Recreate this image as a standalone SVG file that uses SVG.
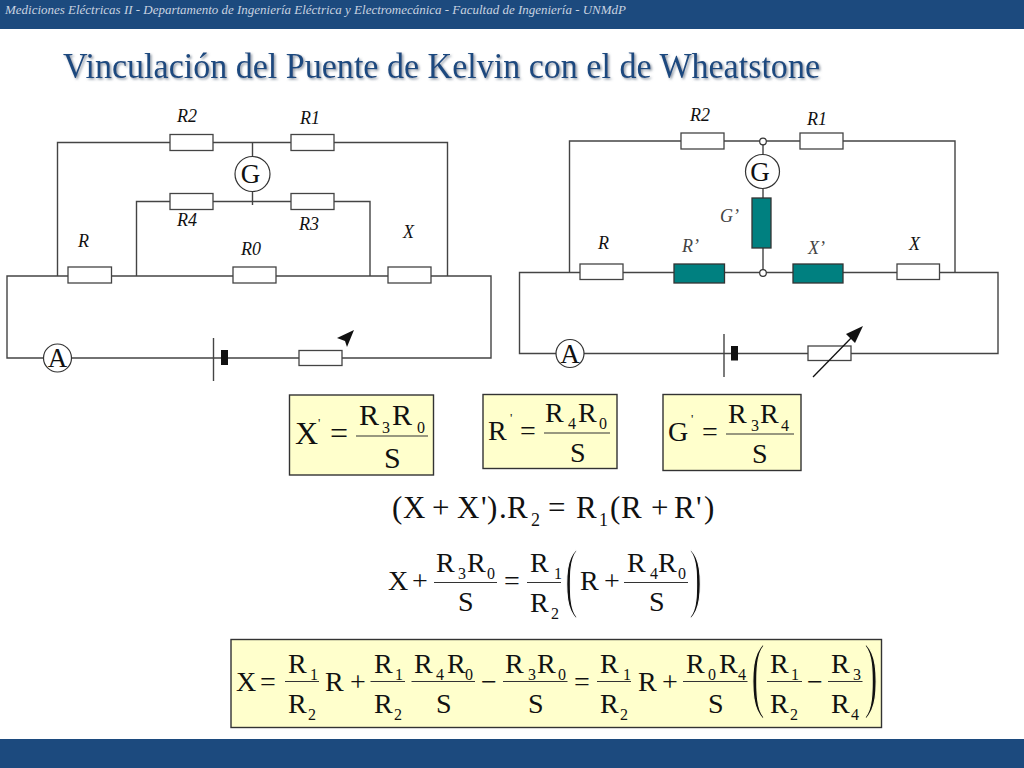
<svg xmlns="http://www.w3.org/2000/svg" width="1024" height="768" viewBox="0 0 1024 768">
<defs>
<filter id="sh" x="-5%" y="-20%" width="110%" height="150%"><feDropShadow dx="1.5" dy="1.5" stdDeviation="1" flood-color="#6f7d8e" flood-opacity="0.8"/></filter>
</defs>
<style>
text{font-family:"Liberation Serif","Times New Roman",serif;fill:#111}
.w{fill:none;stroke:#444;stroke-width:1.4}
.r{fill:#fff;stroke:#444;stroke-width:1.3}
.t{fill:#008080;stroke:#333;stroke-width:1.3}
.c{fill:#fff;stroke:#333;stroke-width:1.2}
.l{font-style:italic;font-size:18px}
.lg{font-style:italic;font-size:18px;fill:#444}
.n{font-size:27px;text-anchor:middle}
.box{fill:#ffffcc;stroke:#333;stroke-width:1.4}
.m{font-size:28px}
.a{font-size:30px}
.d{font-size:31px}
.s{font-size:16px}
.p{font-size:13px}
.f{stroke:#333;stroke-width:1.2;fill:none}
.b{font-size:78px;stroke:#fff;stroke-width:2}
.by{font-size:84px;stroke:#ffffcc;stroke-width:2}
</style>
<rect x="0" y="0" width="1024" height="29" fill="#1c4a7e"/>
<rect x="0" y="739" width="1024" height="29" fill="#1c4a7e"/>
<text x="5" y="14" font-size="13.5" font-style="italic" style="fill:#c9d3e0" textLength="621" lengthAdjust="spacingAndGlyphs">Mediciones Eléctricas II - Departamento de Ingeniería Eléctrica y Electromecánica  - Facultad de Ingeniería  - UNMdP</text>
<text x="63" y="78" font-size="35" style="fill:#1f4a7f" filter="url(#sh)" textLength="757" lengthAdjust="spacingAndGlyphs">Vinculación del Puente de Kelvin con el de Wheatstone</text>

<g id="connectors">
<path class="w" d="M57.5 358H7V276H491V358H71M71.5 358H299M342 358H491M57.5 276V142.5H447.5V276M252.5 142.5V157M252.5 191V205M136.5 276V201.5H370V276"/>
<path class="w" d="M213.5 338V381"/>
<path class="w" d="M569.5 353.5H519.5V272.5H998V353.5H584M569.5 272.5V141H955V272.5M763 141V155M763 188V198M763 248V273M584 353.5H808M851 353.5H998"/>
<path class="w" d="M724 334V377"/>
</g>

<g id="left-R2"><rect class="r" x="170" y="134.5" width="43" height="16"/><text class="l" x="177" y="122">R2</text></g>
<g id="left-R1"><rect class="r" x="291" y="134.5" width="43" height="16"/><text class="l" x="300" y="124">R1</text></g>
<g id="left-R4"><rect class="r" x="170" y="193.5" width="43" height="16"/><text class="l" x="177" y="226">R4</text></g>
<g id="left-R3"><rect class="r" x="291" y="193.5" width="43" height="16"/><text class="l" x="299" y="230">R3</text></g>
<g id="left-R"><rect class="r" x="68" y="267" width="43.5" height="16"/><text class="l" x="78" y="247">R</text></g>
<g id="left-R0"><rect class="r" x="233" y="267" width="43" height="16"/><text class="l" x="241" y="255">R0</text></g>
<g id="left-X"><rect class="r" x="388" y="267" width="43" height="16"/><text class="l" x="403" y="238">X</text></g>
<g id="left-G"><circle class="c" cx="252.5" cy="174" r="17.5"/><text class="n" x="250.5" y="183">G</text></g>
<g id="left-A"><circle class="c" cx="57.5" cy="358" r="14"/><text class="n" x="57.5" y="367">A</text></g>
<g id="left-battery"><rect x="221" y="350" width="7" height="15" fill="#111"/></g>
<g id="left-rheostat"><rect class="r" x="299" y="350.5" width="43" height="15"/><polygon points="354,330 337,338 345,341 347,347" fill="#111"/></g>

<g id="right-R2"><rect class="r" x="681" y="133" width="43" height="16"/><text class="l" x="690" y="121">R2</text></g>
<g id="right-R1"><rect class="r" x="800" y="133" width="43" height="16"/><text class="l" x="807" y="125">R1</text></g>
<g id="right-node-top"><circle class="c" cx="763" cy="141.5" r="3.3"/></g>
<g id="right-node-bottom"><circle class="c" cx="763" cy="273" r="3.3"/></g>
<g id="right-G"><circle class="c" cx="762.5" cy="171.5" r="17"/><text class="n" x="760" y="181">G</text></g>
<g id="right-Gp"><rect class="t" x="752" y="198" width="19" height="50"/><text class="lg" x="720" y="222">G’</text></g>
<g id="right-R"><rect class="r" x="580" y="264" width="43" height="15.5"/><text class="l" x="598" y="249">R</text></g>
<g id="right-Rp"><rect class="t" x="674" y="264" width="50.5" height="19"/><text class="lg" x="682" y="252">R’</text></g>
<g id="right-Xp"><rect class="t" x="793" y="264" width="50" height="19"/><text class="lg" x="808" y="254">X’</text></g>
<g id="right-X"><rect class="r" x="897" y="264" width="42.5" height="15.5"/><text class="l" x="909" y="250">X</text></g>
<g id="right-A"><circle class="c" cx="570" cy="353.5" r="14"/><text class="n" x="570" y="362.5">A</text></g>
<g id="right-battery"><rect x="731" y="346" width="7" height="14.5" fill="#111"/></g>
<g id="right-rheostat"><rect class="r" x="808" y="346" width="43" height="14.5"/><path d="M813 377L855 334" stroke="#111" stroke-width="1.3" fill="none"/><polygon points="863,326 846,334 855,343" fill="#111"/></g>

<g id="eq-X">
<rect class="box" x="289.5" y="395" width="144" height="80"/>
<text style="font-size:32px" x="295" y="444">X</text><text class="p" x="318" y="427">'</text>
<text style="font-size:32px" x="330" y="444">=</text>
<text class="a" x="359" y="425">R</text><text class="s" x="382" y="433">3</text><text class="a" x="392" y="425">R</text><text class="s" x="417" y="433">0</text>
<line class="f" x1="356" y1="436" x2="428" y2="436"/>
<text class="a" x="384" y="468">S</text>
</g>
<g id="eq-R">
<rect class="box" x="483" y="394.5" width="134" height="74"/>
<text class="m" x="488" y="440">R</text><text class="p" x="510" y="422">'</text>
<text class="m" x="520" y="440">=</text>
<text class="m" x="545" y="422">R</text><text class="s" x="568" y="429">4</text><text class="m" x="578" y="422">R</text><text class="s" x="599" y="429">0</text>
<line class="f" x1="544" y1="433" x2="610" y2="433"/>
<text class="m" x="570" y="462">S</text>
</g>
<g id="eq-G">
<rect class="box" x="663" y="394.5" width="138" height="76"/>
<text class="m" x="668" y="441">G</text><text class="p" x="691" y="423">'</text>
<text class="m" x="702" y="441">=</text>
<text class="m" x="728" y="423">R</text><text class="s" x="751" y="431">3</text><text class="m" x="760" y="423">R</text><text class="s" x="781" y="431">4</text>
<line class="f" x1="726" y1="434" x2="794" y2="434"/>
<text class="m" x="752" y="463">S</text>
</g>
<g id="eq-balance">
<text class="d" x="392" y="518">(</text>
<text class="d" x="403" y="518">X</text>
<text class="d" x="432" y="518">+</text>
<text class="d" x="457" y="518">X</text>
<text class="d" x="481" y="518">'</text>
<text class="d" x="487" y="518">)</text>
<text class="d" x="499" y="518">.</text>
<text class="d" x="507" y="518">R</text>
<text class="s" x="531" y="526" style="font-size:18px">2</text>
<text class="d" x="548" y="518">=</text>
<text class="d" x="576" y="518">R</text>
<text class="s" x="599" y="526" style="font-size:18px">1</text>
<text class="d" x="610" y="518">(</text>
<text class="d" x="621" y="518">R</text>
<text class="d" x="651" y="518">+</text>
<text class="d" x="674" y="518">R</text>
<text class="d" x="696" y="518">'</text>
<text class="d" x="704" y="518">)</text>
</g>
<g id="eq-expanded">
<text class="m" x="388" y="590">X</text>
<text class="m" x="412" y="590">+</text>
<text class="m" x="436" y="572">R</text><text class="s" x="458" y="579">3</text><text class="m" x="467" y="572">R</text><text class="s" x="487" y="579">0</text>
<line class="f" x1="434" y1="582.5" x2="497" y2="582.5"/>
<text class="m" x="458" y="611">S</text>
<text class="m" x="504" y="590">=</text>
<text class="m" x="530" y="572">R</text><text class="s" x="554" y="579">1</text>
<line class="f" x1="527" y1="582.5" x2="561" y2="582.5"/>
<text class="m" x="530" y="612">R</text><text class="s" x="551" y="619">2</text>
<text class="b" transform="translate(565,603) scale(0.5,1)">(</text>
<text class="m" x="580" y="590">R</text>
<text class="m" x="604" y="590">+</text>
<text class="m" x="627" y="572">R</text><text class="s" x="650" y="579">4</text><text class="m" x="658" y="572">R</text><text class="s" x="678" y="579">0</text>
<line class="f" x1="624" y1="582.5" x2="688" y2="582.5"/>
<text class="m" x="649" y="611">S</text>
<text class="b" transform="translate(689,603) scale(0.5,1)">)</text>
</g>
<g id="eq-result">
<rect class="box" x="231" y="639.5" width="650.5" height="88"/>
<text class="m" x="236" y="691">X</text>
<text class="m" x="260" y="691">=</text>
<text class="m" x="288" y="673">R</text><text class="s" x="310" y="680">1</text>
<line class="f" x1="285" y1="681.5" x2="319" y2="681.5"/>
<text class="m" x="288" y="713">R</text><text class="s" x="308" y="720">2</text>
<text class="m" x="325" y="691">R</text>
<text class="m" x="350" y="691">+</text>
<text class="m" x="374" y="673">R</text><text class="s" x="395" y="680">1</text>
<line class="f" x1="370.5" y1="681.5" x2="405" y2="681.5"/>
<text class="m" x="374" y="713">R</text><text class="s" x="394" y="720">2</text>
<text class="m" x="414" y="673">R</text><text class="s" x="436" y="680">4</text><text class="m" x="447" y="673">R</text><text class="s" x="465" y="680">0</text>
<line class="f" x1="411.5" y1="681.5" x2="475" y2="681.5"/>
<text class="m" x="436" y="713">S</text>
<text class="m" x="481" y="691">−</text>
<text class="m" x="505" y="673">R</text><text class="s" x="528" y="680">3</text><text class="m" x="537" y="673">R</text><text class="s" x="558" y="680">0</text>
<line class="f" x1="503" y1="681.5" x2="567.5" y2="681.5"/>
<text class="m" x="528" y="713">S</text>
<text class="m" x="574" y="691">=</text>
<text class="m" x="600" y="673">R</text><text class="s" x="623" y="680">1</text>
<line class="f" x1="597" y1="681.5" x2="631" y2="681.5"/>
<text class="m" x="600" y="713">R</text><text class="s" x="620" y="720">2</text>
<text class="m" x="638" y="691">R</text>
<text class="m" x="662" y="691">+</text>
<text class="m" x="686" y="673">R</text><text class="s" x="708" y="680">0</text><text class="m" x="719" y="673">R</text><text class="s" x="738" y="680">4</text>
<line class="f" x1="683" y1="681.5" x2="747.5" y2="681.5"/>
<text class="m" x="708" y="713">S</text>
<text class="by" transform="translate(751,702) scale(0.5,1)">(</text>
<text class="m" x="770" y="673">R</text><text class="s" x="791" y="680">1</text>
<line class="f" x1="767" y1="681.5" x2="802" y2="681.5"/>
<text class="m" x="770" y="713">R</text><text class="s" x="790" y="720">2</text>
<text class="m" x="807" y="691">−</text>
<text class="m" x="831" y="673">R</text><text class="s" x="853" y="680">3</text>
<line class="f" x1="828" y1="681.5" x2="862.5" y2="681.5"/>
<text class="m" x="831" y="713">R</text><text class="s" x="851" y="720">4</text>
<text class="by" transform="translate(864,702) scale(0.5,1)">)</text>
</g>
</svg>
